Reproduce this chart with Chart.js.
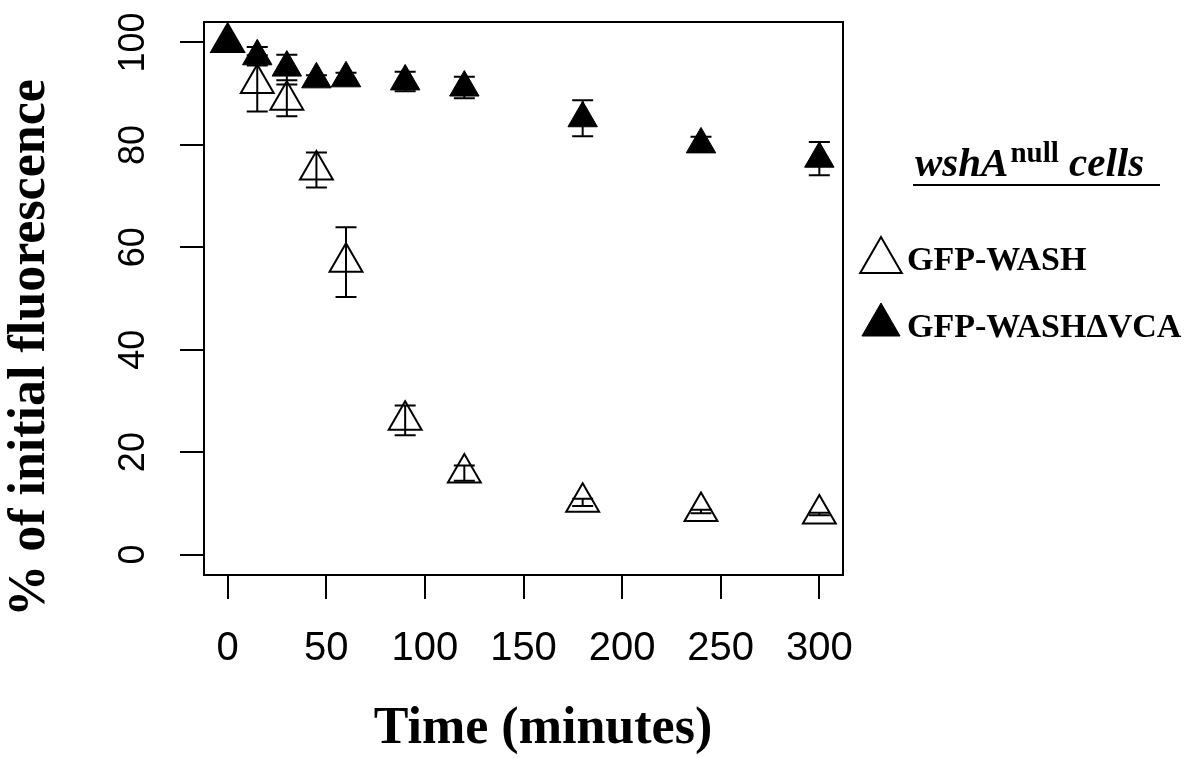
<!DOCTYPE html>
<html>
<head>
<meta charset="utf-8">
<script src="https://cdn.jsdelivr.net/npm/chart.js@4.4.1/dist/chart.umd.min.js"></script>
<style>
  html, body { margin: 0; padding: 0; background: #fff; }
  #chart { display: block; }
</style>
</head>
<body>
<canvas id="chart" width="1198" height="758"></canvas>
<script>
// time points (minutes)
const times = [0, 15, 30, 45, 60, 90, 120, 180, 240, 300];

// GFP-WASH (open triangles)
const washMean = [100, 92.0, 88.7, 75.1, 57.1, 26.2, 15.9, 10.2, 8.4, 7.9];
const washErr = [0, 5.5, 3.1, 3.4, 6.8, 2.9, 1.5, 0.7, 0.35, 0.25];

// GFP-WASH deltaVCA (filled triangles)
const vcaMean = [100, 97.3, 95.1, 92.8, 93.0, 92.4, 91.2, 85.2, 80.1, 77.3];
const vcaErr = [0, 1.8, 2.5, 0.8, 1.1, 1.9, 2.1, 3.5, 1.5, 3.25];

const xTicks = [0, 50, 100, 150, 200, 250, 300];
const yTicks = [0, 20, 40, 60, 80, 100];
const seriesNames = ["GFP-WASH", "GFP-WASH\u0394VCA"];

const serif = '"Liberation Serif", "Times New Roman", serif';
const sans = '"Liberation Sans", Arial, sans-serif';

const toPoints = (means) => times.map((t, i) => ({ x: t, y: means[i] }));

// vertical error bars with caps
const errorBars = {
  id: "errorBars",
  afterDatasetsDraw(chart) {
    const { ctx } = chart;
    const xs = chart.scales.x;
    const ys = chart.scales.y;
    ctx.save();
    ctx.strokeStyle = "#000";
    ctx.lineWidth = 2;
    chart.data.datasets.forEach((ds) => {
      ds.data.forEach((p, i) => {
        const e = ds.errors[i];
        if (!e) return;
        const px = xs.getPixelForValue(p.x);
        const top = ys.getPixelForValue(p.y + e);
        const bot = ys.getPixelForValue(p.y - e);
        ctx.beginPath();
        ctx.moveTo(px, top);
        ctx.lineTo(px, bot);
        ctx.moveTo(px - 10.5, top);
        ctx.lineTo(px + 10.5, top);
        ctx.moveTo(px - 10.5, bot);
        ctx.lineTo(px + 10.5, bot);
        ctx.stroke();
      });
    });
    ctx.restore();
  },
};

// box around the plot region + y axis title
const frame = {
  id: "frame",
  afterDraw(chart) {
    const { ctx, chartArea: a } = chart;
    ctx.save();
    ctx.strokeStyle = "#000";
    ctx.lineWidth = 2;
    ctx.strokeRect(a.left, a.top, a.right - a.left, a.bottom - a.top);

    ctx.translate(31, 348);
    ctx.rotate(-Math.PI / 2);
    ctx.font = "bold 52px " + serif;
    ctx.fillStyle = "#000";
    ctx.textAlign = "center";
    ctx.textBaseline = "middle";
    ctx.fillText("% of initial fluorescence", 0, 0);
    ctx.restore();
  },
};

// legend on the right
const sideLegend = {
  id: "sideLegend",
  afterDraw(chart) {
    const { ctx } = chart;
    ctx.save();
    ctx.fillStyle = "#000";
    ctx.textBaseline = "alphabetic";
    ctx.textAlign = "left";

    // heading: wshA^null cells
    let x = 915;
    ctx.font = "italic bold 41px " + serif;
    ctx.fillText("wshA", x, 176);
    x += ctx.measureText("wshA").width + 2;
    ctx.font = "bold 29px " + serif;
    ctx.fillText("null", x, 162);
    x += ctx.measureText("null").width;
    ctx.font = "italic bold 41px " + serif;
    ctx.fillText(" cells", x, 176);

    ctx.strokeStyle = "#000";
    ctx.lineWidth = 2;
    ctx.beginPath();
    ctx.moveTo(913, 185);
    ctx.lineTo(1160, 185);
    ctx.stroke();

    // entries
    const rows = [
      { y: 261, r: 24, label: seriesNames[0], ds: 1, base: 270 },
      { y: 325, r: 22, label: seriesNames[1], ds: 0, base: 337 },
    ];
    rows.forEach((row) => {
      const ds = chart.data.datasets[row.ds];
      ctx.fillStyle = ds.pointBackgroundColor;
      ctx.strokeStyle = ds.pointBorderColor;
      ctx.lineWidth = ds.pointBorderWidth;
      Chart.helpers.drawPoint(
        ctx,
        {
          pointStyle: "triangle",
          radius: row.r,
          rotation: 0,
          borderWidth: ds.pointBorderWidth,
        },
        881,
        row.y
      );
      ctx.fillStyle = "#000";
      ctx.font = "bold 34px " + serif;
      ctx.fillText(row.label, 907, row.base);
    });
    ctx.restore();
  },
};

Chart.defaults.font.family = sans;
Chart.defaults.color = "#000";

new Chart(document.getElementById("chart"), {
  type: "scatter",
  data: {
    datasets: [
      {
        label: seriesNames[1],
        data: toPoints(vcaMean),
        errors: vcaErr,
        pointStyle: "triangle",
        pointRadius: 17,
        pointBackgroundColor: "#000",
        pointBorderColor: "#000",
        pointBorderWidth: 1,
        order: 0,
      },
      {
        label: seriesNames[0],
        data: toPoints(washMean),
        errors: washErr,
        pointStyle: "triangle",
        pointRadius: 19,
        pointBackgroundColor: "rgba(255,255,255,0)",
        pointBorderColor: "#000",
        pointBorderWidth: 2,
        order: 1,
      },
    ],
  },
  options: {
    responsive: false,
    animation: false,
    layout: { padding: { left: 0, top: 22, right: 355, bottom: 0 } },
    plugins: {
      legend: { display: false },
      tooltip: { enabled: false },
    },
    scales: {
      x: {
        type: "linear",
        min: -12,
        max: 312,
        afterBuildTicks: (s) => {
          s.ticks = xTicks.map((v) => ({ value: v }));
        },
        afterFit: (s) => {
          s.height = 183;
          s.paddingLeft = 0;
          s.paddingRight = 0;
        },
        border: { display: false },
        grid: {
          drawOnChartArea: false,
          drawTicks: true,
          tickLength: 24,
          color: "#000",
          lineWidth: 2,
        },
        ticks: {
          font: { size: 40, family: sans },
          color: "#000",
          padding: 26,
          maxRotation: 0,
          autoSkip: false,
        },
        title: {
          display: true,
          text: "   Time (minutes)",
          font: { size: 52, weight: "bold", family: serif, lineHeight: 1.1 },
          color: "#000",
          padding: 0,
        },
      },
      y: {
        type: "linear",
        min: -4,
        max: 104,
        afterBuildTicks: (s) => {
          s.ticks = yTicks.map((v) => ({ value: v }));
        },
        afterFit: (s) => {
          s.width = 204;
          s.paddingTop = 0;
          s.paddingBottom = 0;
        },
        border: { display: false },
        grid: {
          drawOnChartArea: false,
          drawTicks: true,
          tickLength: 24,
          color: "#000",
          lineWidth: 2,
        },
        ticks: {
          font: { size: 36, family: sans },
          color: "#000",
          padding: 16,
          minRotation: 90,
          maxRotation: 90,
          crossAlign: "center",
          autoSkip: false,
        },
      },
    },
  },
  plugins: [errorBars, frame, sideLegend],
});
</script>
</body>
</html>
